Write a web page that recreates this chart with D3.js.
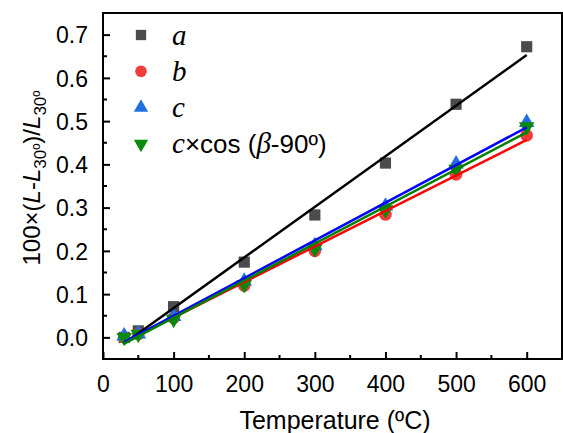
<!DOCTYPE html>
<html>
<head>
<meta charset="utf-8">
<script src="https://cdn.jsdelivr.net/npm/d3@7"></script>
<style>
	body { margin: 0; background: #fff; }
	text { font-family: "Liberation Sans", Arial, sans-serif; fill: #000; }
</style>
</head>
<body>
<div id="chart"></div>
<script>
// temperatures (ºC) and relative change of each lattice parameter
var temperature = [30, 50, 100, 200, 300, 400, 500, 600];
var seriesA = [0.000, 0.015, 0.071, 0.174, 0.283, 0.403, 0.539, 0.672];
var seriesB = [0.000, 0.008, 0.045, 0.120, 0.200, 0.284, 0.377, 0.467];
var seriesC = [0.003, 0.008, 0.048, 0.130, 0.212, 0.303, 0.401, 0.497];
var seriesCcos = [0.000, 0.007, 0.042, 0.122, 0.205, 0.295, 0.389, 0.487];
var xTicks = [0, 100, 200, 300, 400, 500, 600];
var yTicks = [0.0, 0.1, 0.2, 0.3, 0.4, 0.5, 0.6, 0.7];

var width = 563, height = 433;
var margin = { top: 13, right: 1, bottom: 74, left: 103 };
var w = width - margin.left - margin.right;
var h = height - margin.top - margin.bottom;

var svg = d3.select("#chart")
	.append("svg")
		.attr("width", width)
		.attr("height", height)
	.append("g")
		.attr("transform", "translate(" + margin.left + "," + margin.top + ")");

var x = d3.scaleLinear().domain([0, 650]).range([0, w]);
var y = d3.scaleLinear().domain([-0.05, 0.75]).range([h, 0]);

var series = [
	{ key: "a", values: seriesA, shape: d3.symbolSquare, size: 125, fill: "#4b4b4b", line: "#000000", rot: 0 },
	{ key: "b", values: seriesB, shape: d3.symbolCircle, size: 125, fill: "#f23b3b", line: "#ff0000", rot: 0 },
	{ key: "c", values: seriesC, shape: d3.symbolTriangle, size: 105, fill: "#1f6fe0", line: "#0000ff", rot: 0 },
	{ key: "d", values: seriesCcos, shape: d3.symbolTriangle, size: 105, fill: "#0a8a0a", line: "#008000", rot: 180 }
];

// least squares fit for each series
function fit(vals) {
	var mx = d3.mean(temperature), my = d3.mean(vals);
	var sxy = d3.sum(temperature, function(t, i) { return (t - mx) * (vals[i] - my); });
	var sxx = d3.sum(temperature, function(t) { return (t - mx) * (t - mx); });
	var k = sxy / sxx;
	return { k: k, b: my - k * mx };
}

// markers
series.forEach(function(s) {
	svg.append("g").selectAll("path")
		.data(s.values)
		.enter().append("path")
			.attr("d", d3.symbol().type(s.shape).size(s.size))
			.attr("transform", function(d, i) {
				return "translate(" + x(temperature[i]) + "," + y(d) + ") rotate(" + s.rot + ")";
			})
			.attr("fill", s.fill);
});

// fit lines
var t0 = d3.min(temperature), t1 = d3.max(temperature);
series.forEach(function(s) {
	var f = fit(s.values);
	svg.append("line")
		.attr("x1", x(t0)).attr("y1", y(f.k * t0 + f.b))
		.attr("x2", x(t1)).attr("y2", y(f.k * t1 + f.b))
		.attr("stroke", s.line)
		.attr("stroke-width", 2.5);
});

// frame
svg.append("rect")
	.attr("x", 0).attr("y", 0).attr("width", w).attr("height", h)
	.attr("fill", "none").attr("stroke", "#000").attr("stroke-width", 2);

// axes with inward ticks
var xAxis = svg.append("g").attr("transform", "translate(0," + h + ")");
xAxis.selectAll(".minor")
	.data(d3.range(50, 650, 100))
	.enter().append("line")
		.attr("x1", function(d) { return x(d); }).attr("x2", function(d) { return x(d); })
		.attr("y1", 0).attr("y2", -4)
		.attr("stroke", "#000").attr("stroke-width", 2);
xAxis.call(d3.axisBottom(x).tickValues(xTicks).tickSizeInner(-7).tickSizeOuter(0).tickPadding(33))
	.call(function(g) { g.select(".domain").remove(); });
xAxis.selectAll(".tick line").attr("stroke-width", 2);
xAxis.selectAll(".tick text").style("font-size", "23px").attr("dy", "0");

var yAxis = svg.append("g");
yAxis.selectAll(".minor")
	.data(d3.range(0.05, 0.75, 0.1))
	.enter().append("line")
		.attr("y1", function(d) { return y(d); }).attr("y2", function(d) { return y(d); })
		.attr("x1", 0).attr("x2", 4)
		.attr("stroke", "#000").attr("stroke-width", 2);
yAxis.call(d3.axisLeft(y).tickValues(yTicks).tickFormat(d3.format(".1f")).tickSizeInner(-7).tickSizeOuter(0).tickPadding(15))
	.call(function(g) { g.select(".domain").remove(); });
yAxis.selectAll(".tick line").attr("stroke-width", 2);
yAxis.selectAll(".tick text").style("font-size", "23px").attr("dy", "0.36em");

// axis titles
svg.append("text")
	.attr("x", 232).attr("y", h + 70)
	.attr("text-anchor", "middle")
	.style("font-size", "25px")
	.text("Temperature (ºC)");

var yTitle = svg.append("text")
	.attr("transform", "translate(-63," + 165 + ") rotate(-90)")
	.attr("text-anchor", "middle")
	.style("font-size", "24px");
yTitle.append("tspan").text("100×(");
yTitle.append("tspan").style("font-style", "italic").text("L");
yTitle.append("tspan").text("-");
yTitle.append("tspan").style("font-style", "italic").text("L");
yTitle.append("tspan").attr("dy", 6).style("font-size", "17px").text("30º");
yTitle.append("tspan").attr("dy", -6).text(")/");
yTitle.append("tspan").style("font-style", "italic").text("L");
yTitle.append("tspan").attr("dy", 6).style("font-size", "17px").text("30º");

// legend
var serif = "'Liberation Serif', 'Times New Roman', serif";
var legend = svg.append("g").attr("transform", "translate(38,22)");
var rows = legend.selectAll("g")
	.data(series)
	.enter().append("g")
		.attr("transform", function(d, i) { return "translate(0," + (i * 36.3) + ")"; });
rows.append("path")
	.attr("d", function(d) { return d3.symbol().type(d.shape).size(d.size * 0.85)(); })
	.attr("transform", function(d) { return "rotate(" + d.rot + ")"; })
	.attr("fill", function(d) { return d.fill; });
var labels = rows.append("text")
	.attr("x", 31).attr("y", 9.5)
	.style("font-size", "26px");
labels.each(function(d) {
	var t = d3.select(this);
	var it = function(s) {
		t.append("tspan").style("font-family", serif).style("font-style", "italic")
			.style("font-size", "29px").text(s);
	};
	if (d.key !== "d") {
		it(d.key);
	} else {
		it("c");
		t.append("tspan").text("×cos (");
		it("β");
		t.append("tspan").text("-90º)");
	}
});
</script>
</body>
</html>
